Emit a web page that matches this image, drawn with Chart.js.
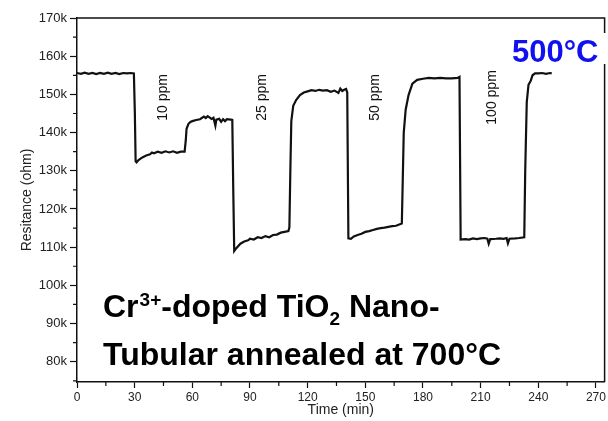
<!DOCTYPE html>
<html>
<head>
<meta charset="utf-8">
<script src="https://cdn.jsdelivr.net/npm/chart.js@4"></script>
<style>
  body { margin: 0; background: #fff; }
  canvas { display: block; }
</style>
</head>
<body>
<canvas id="graph1" width="608" height="421"></canvas>
<script>
// time (min) / resistance (ohm)
var tempsMin = [
    0, 2, 4, 6, 8, 10, 12, 14, 16, 18, 20, 22, 24, 26, 28, 29.6,
    30.1, 30.5, 31, 32, 34, 36, 38, 39, 40, 42, 44, 46, 48, 50, 52, 54, 56,
    56.6, 57, 58, 59, 60, 62, 64, 66, 67, 68, 70, 71, 72, 72.5, 74, 75, 76, 77, 78, 80, 80.8,
    81.3, 81.8, 83, 85, 87, 89, 90, 92, 94, 96, 98, 100, 102, 104, 106, 108, 110, 110.5,
    111, 111.5, 112.5, 114, 116, 118, 120, 122, 124, 126, 128, 130, 132, 134, 136, 137, 138, 139, 140, 140.6,
    141.2, 142.5, 144, 146, 148, 150, 152, 154, 156, 158, 160, 162, 164, 166, 168, 169,
    169.5, 170, 171, 172.5, 174.5, 177, 180, 183, 186, 189, 192, 195, 198, 199,
    199.6, 202, 204, 206, 208, 210, 212, 213.5, 214.2, 215, 218, 220, 222, 223.5, 224.2, 225, 228, 230, 232.7,
    233.2, 234, 234.9, 236, 237, 238.3, 240, 242, 244, 246, 247
];
var resistanceOhm = [
    155600, 155400, 155700, 155400, 155600, 155300, 155600, 155400, 155700, 155400, 155600, 155300, 155600, 155500, 155600, 155500,
    145000, 132500, 132200, 132800, 133500, 134000, 134300, 134800, 134600, 135000, 134700, 135100, 134800, 135100, 134700, 135000, 135000,
    138000, 141000, 142300, 142800, 143000, 143300, 143500, 144200, 143800, 144300, 143600, 143900, 141800, 143400, 143600, 142800, 143500, 143000, 143500, 143400, 143300,
    125000, 109000, 109800, 110900, 111500, 111800, 112200, 112000, 112600, 112400, 112900, 112600, 113200, 113300, 113800, 114000, 114200, 115200,
    130000, 143000, 147000, 148500, 149800, 150500, 150800, 151100, 150900, 151200, 151000, 151100, 150700, 151000, 150400, 151500, 150900, 151200, 151400, 150500,
    112300, 112200, 112800, 113200, 113500, 114000, 114200, 114500, 114800, 115000, 115100, 115300, 115500, 115600, 116000, 116200,
    128000, 140000, 146000, 149800, 152800, 153800, 154100, 154300, 154200, 154300, 154200, 154200, 154300, 154600,
    112000, 112100, 112000, 112300, 112100, 112300, 112400, 112200, 110900, 112100, 112200, 112300, 112200, 112400, 111000, 112200, 112300, 112400, 112600,
    130000, 148000, 152500, 153500, 155000, 155500, 155500, 155600, 155400, 155600, 155500
];

var ticksX = [0, 30, 60, 90, 120, 150, 180, 210, 240, 270];
var ticksY = [80000, 90000, 100000, 110000, 120000, 130000, 140000, 150000, 160000, 170000];

var ppmLabels = ['10 ppm', '25 ppm', '50 ppm', '100 ppm'];
var ppmTemps = [44.7, 96.4, 155.2, 216.1];
var ppmNiveau = 149200;

var police = '"Liberation Sans", Arial, sans-serif';

var points = [];
for (let i = 0; i < tempsMin.length; i++) {
    points.push({ x: tempsMin[i], y: resistanceOhm[i] });
}

// cadre + petites graduations + textes
var decor = {
    id: 'decor',
    afterDraw: function (chart) {
        var c = chart.ctx, a = chart.chartArea;
        var sx = chart.scales.x, sy = chart.scales.y;
        c.save();
        c.strokeStyle = '#111';
        c.lineWidth = 1.5;
        c.beginPath();
        c.moveTo(a.left, a.top);
        c.lineTo(a.right, a.top);
        c.lineTo(a.right, a.bottom);
        c.stroke();

        // minor ticks
        c.lineWidth = 1.2;
        c.beginPath();
        for (let v = 15; v < 274; v += 30) {
            var px = sx.getPixelForValue(v);
            c.moveTo(px, a.bottom);
            c.lineTo(px, a.bottom + 4);
        }
        for (let v = 75000; v < 170000; v += 10000) {
            var py = sy.getPixelForValue(v);
            c.moveTo(a.left, py);
            c.lineTo(a.left - 4, py);
        }
        c.stroke();

        // ppm labels
        c.fillStyle = '#111';
        c.font = '14px ' + police;
        c.textAlign = 'center';
        c.textBaseline = 'middle';
        for (let k = 0; k < ppmLabels.length; k++) {
            c.save();
            c.translate(sx.getPixelForValue(ppmTemps[k]), sy.getPixelForValue(ppmNiveau));
            c.rotate(-Math.PI / 2);
            c.fillText(ppmLabels[k], 0, 0);
            c.restore();
        }

        // 500°C
        c.fillStyle = '#fff';
        c.fillRect(490, 33, 118, 31);
        c.fillStyle = '#1010f0';
        c.font = 'bold 31px ' + police;
        c.textAlign = 'left';
        c.textBaseline = 'alphabetic';
        c.fillText('500°C', 512, 62);

        // sample text
        c.fillStyle = '#000';
        var x = 103, y1 = 317, y2 = 365;
        var grand = 'bold 32px ' + police, petit = 'bold 19px ' + police;
        c.font = grand;
        c.fillText('Cr', x, y1);
        x += c.measureText('Cr').width + 1;
        c.font = petit;
        c.fillText('3+', x, y1 - 11);
        x += c.measureText('3+').width;
        c.font = grand;
        c.fillText('-doped TiO', x, y1);
        x += c.measureText('-doped TiO').width;
        c.font = petit;
        c.fillText('2', x, y1 + 8);
        x += c.measureText('2').width;
        c.font = grand;
        c.fillText(' Nano-', x, y1);
        c.fillText('Tubular annealed at 700°C', 103, y2);
        c.restore();
    }
};

var ctx = document.getElementById('graph1').getContext('2d');
var data = {
    datasets: [{
        data: points,
        borderColor: '#111',
        borderWidth: 2.2,
        pointRadius: 0,
        tension: 0,
        fill: false
    }]
}
var options = {
    responsive: false,
    animation: false,
    layout: { padding: { top: 18, right: 2, left: 0, bottom: 0 } },
    plugins: { legend: { display: false }, tooltip: { enabled: false } },
    scales: {
        x: {
            type: 'linear',
            min: 0,
            max: 274.5,
            afterBuildTicks: function (s) { s.ticks = ticksX.map(v => ({ value: v })); },
            afterFit: function (s) { s.height = 39; },
            ticks: {
                autoSkip: false,
                maxRotation: 0,
                padding: 2,
                color: '#222',
                font: { family: police, size: 12 }
            },
            grid: { drawOnChartArea: false, tickLength: 6, tickColor: '#111', tickWidth: 1.2 },
            border: { color: '#111', width: 1.5 },
            title: {
                display: true,
                text: 'Time (min)',
                color: '#222',
                font: { family: police, size: 14 },
                padding: { top: 0, bottom: 2 }
            }
        },
        y: {
            min: 74700,
            max: 170000,
            afterBuildTicks: function (s) { s.ticks = ticksY.map(v => ({ value: v })); },
            afterFit: function (s) { s.width = 77; },
            ticks: {
                autoSkip: false,
                padding: 3,
                color: '#222',
                font: { family: police, size: 13 },
                callback: function (v) { return (v / 1000) + 'k'; }
            },
            grid: { drawOnChartArea: false, tickLength: 7, tickColor: '#111', tickWidth: 1.2 },
            border: { color: '#111', width: 1.5 },
            title: {
                display: true,
                text: 'Resitance (ohm)',
                color: '#222',
                font: { family: police, size: 14 },
                padding: { top: 19, bottom: 0 }
            }
        }
    }
}
var config = {
    type: 'line',
    data: data,
    options: options,
    plugins: [decor]
}
var graph1 = new Chart(ctx, config)
</script>
</body>
</html>
